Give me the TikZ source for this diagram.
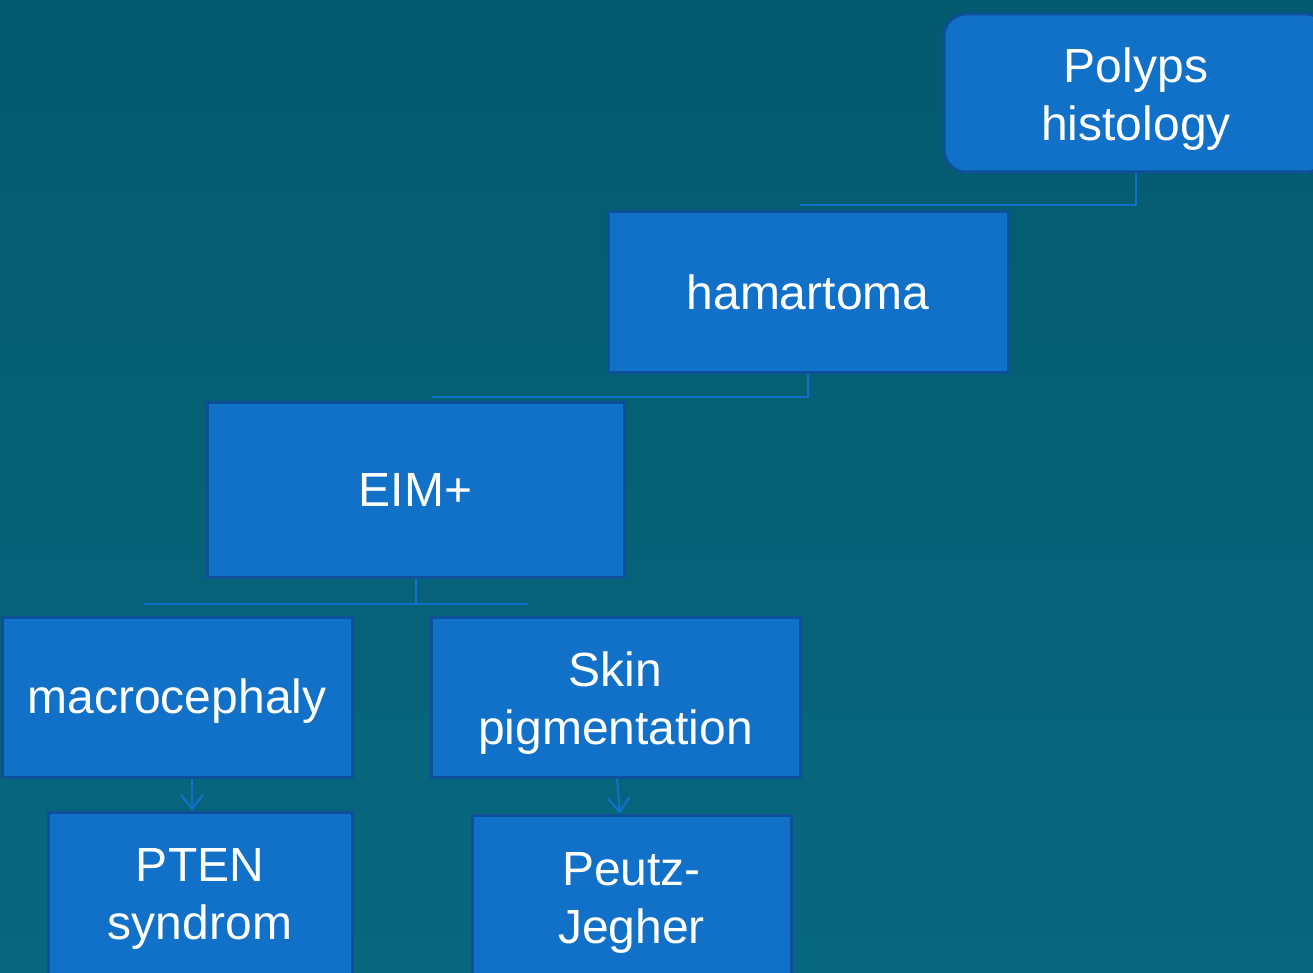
\documentclass[tikz,border=0pt]{standalone}
\usepackage{fontspec}
\setmainfont{Liberation Sans}
\usetikzlibrary{arrows.meta}
\definecolor{bgtop}{HTML}{045A6E}
\definecolor{bgbot}{HTML}{07677F}
\definecolor{boxfill}{HTML}{1170C8}
\definecolor{boxline}{HTML}{0D4F98}
\definecolor{conn}{HTML}{1170C8}
\tikzset{
  box/.style={rectangle, fill=boxfill, draw=boxline, line width=3pt, text=white,
    align=center, inner sep=0pt, font=\fontsize{48}{58}\selectfont},
  label/.style={text=white, align=center, inner sep=0pt, font=\fontsize{48}{58}\selectfont},
  link/.style={draw=conn, line width=2pt},
  arr/.style={draw=conn, line width=2pt, -{Straight Barb[length=14pt,width=22pt,line width=2.2pt]}}
}
\begin{document}
\begin{tikzpicture}[x=1pt,y=-1pt]
\useasboundingbox (0,0) rectangle (1313,973);
\clip (0,0) rectangle (1313,973);
\shade[top color=bgtop, bottom color=bgbot] (0,0) rectangle (1313,973);
% Polyps box with two rounded corners
\node[box, draw=none, fill=none, minimum width=384pt, minimum height=158pt] (P) at (1136,93) {};
\fill[boxfill, draw=boxline, line width=3pt]
  (944,93) {[rounded corners=22pt] -- (944,14) -- (1328,14)} {[rounded corners=22pt] -- (1328,172) -- (944,172)} -- cycle;
\node[label] (Pt) at (1136,99) {Polyps\\histology};
\node[box, minimum width=400pt, minimum height=160pt] (H) at (808,292) {hamartoma};
\node[box, minimum width=417pt, minimum height=175pt] (E) at (415.5,489.5) {EIM+};
\node[box, minimum width=350pt, minimum height=160pt] (M) at (177,697) {};
\node[label] (Mt) at (177,701) {macrocephaly};
\node[box, minimum width=369pt, minimum height=160pt] (S) at (615.5,697) {};
\node[label] (St) at (615.5,703) {Skin\\pigmentation};
\node[box, minimum width=304pt, minimum height=180pt] (T) at (200,902) {};
\node[label] (Tt) at (200,899) {PTEN\\syndrom};
\node[box, minimum width=319pt, minimum height=180pt] (J) at (631.5,905) {};
\node[label] (Jt) at (631.5,903) {Peutz-\\Jegher};
\coordinate (c1) at (800,205);
\coordinate (c2) at (432,397);
\coordinate (c3l) at (144,604);
\coordinate (c3r) at (528,604);
\draw[link] (P.south) |- (c1);
\draw[link] (H.south) |- (c2);
\draw[link] (E.south) -- (E.south |- c3l);
\draw[link] (c3l) -- (c3r);
\draw[arr] ([xshift=15pt]M.south) -- ([xshift=-8pt]T.north);
\draw[arr] ([xshift=1.5pt]S.south) -- ([xshift=-11.5pt]J.north);
\end{tikzpicture}
\end{document}
